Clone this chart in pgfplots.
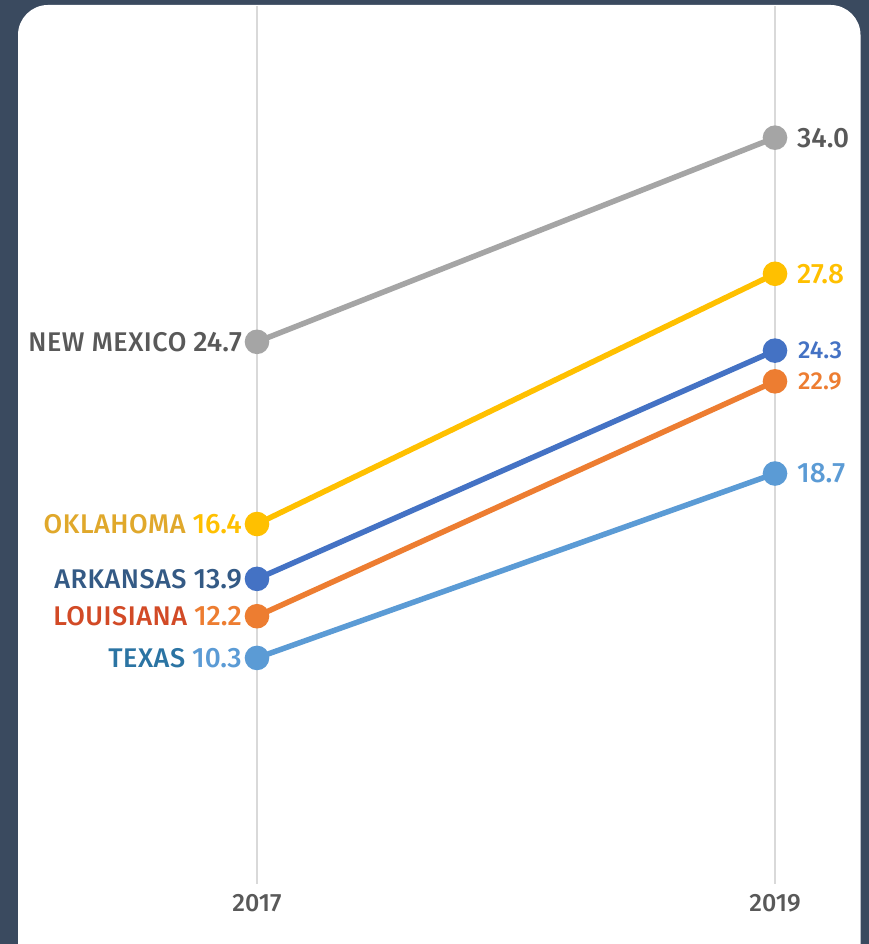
\documentclass[border=0pt]{standalone}
\usepackage{fontspec}
\setmainfont{Fira Sans}[UprightFont=* Medium]
\newfontfamily\namefont{Fira Sans}[UprightFont=* Medium, LetterSpace=2]
\usepackage{pgfplots}
\pgfplotsset{compat=1.18}
\definecolor{bgc}{HTML}{3A4A5F}
\definecolor{gridc}{HTML}{D9D9D9}
\definecolor{labc}{HTML}{595959}
\definecolor{nmline}{HTML}{A5A5A5}
\definecolor{okline}{HTML}{FFC000}
\definecolor{okname}{HTML}{E0A82B}
\definecolor{arline}{HTML}{4472C4}
\definecolor{arname}{HTML}{345A85}
\definecolor{laline}{HTML}{ED7D31}
\definecolor{laname}{HTML}{D24A26}
\definecolor{txline}{HTML}{5B9BD5}
\definecolor{txname}{HTML}{2B74A3}
\newcommand{\fs}[1]{\fontsize{#1}{#1}\selectfont}
\newcommand{\nm}[1]{{\fs{27}\namefont #1}}
\begin{document}
\begin{tikzpicture}[x=1pt,y=1pt]
\fill[bgc] (0,0) rectangle (869,944);
\fill[white,rounded corners=30pt] (18,-40) rectangle (860.5,939);
\begin{axis}[
  at={(257pt,60pt)}, anchor=south west,
  scale only axis, width=518pt, height=878pt,
  xmin=2017, xmax=2019, ymin=0, ymax=40,
  axis line style={draw=none},
  ytick=\empty,
  xtick={2017,2019}, xticklabels={2017,2019},
  xmajorgrids, grid style={color=gridc, line width=1.6pt},
  major tick length=0pt,
  xticklabel style={font=\fs{25}, text=labc, anchor=north, yshift=-7pt},
  clip=false,
  every axis plot/.append style={line width=5.5pt, mark=*, mark size=9.5pt},
]
\addplot[color=nmline, mark options={draw=none, fill=nmline}] coordinates {(2017,24.7) (2019,34.0)};
\addplot[color=okline, mark options={draw=none, fill=okline}] coordinates {(2017,16.4) (2019,27.8)};
\addplot[color=arline, mark options={draw=none, fill=arline}] coordinates {(2017,13.9) (2019,24.3)};
\addplot[color=laline, mark options={draw=none, fill=laline}] coordinates {(2017,12.2) (2019,22.9)};
\addplot[color=txline, mark options={draw=none, fill=txline}] coordinates {(2017,10.3) (2019,18.7)};

\begin{scope}[every node/.style={inner sep=0pt, font=\fs{28}}]
\node[anchor=east, xshift=-15pt] at (axis cs:2017,24.7) {\textcolor{labc}{\nm{NEW MEXICO}} \textcolor{labc}{24.7}};
\node[anchor=east, xshift=-15pt] at (axis cs:2017,16.4) {\textcolor{okname}{\nm{OKLAHOMA}} \textcolor{okline}{16.4}};
\node[anchor=east, xshift=-15pt] at (axis cs:2017,13.9) {\textcolor{arname}{\nm{ARKANSAS}} \textcolor{arname}{13.9}};
\node[anchor=east, xshift=-15pt] at (axis cs:2017,12.2) {\textcolor{laname}{\nm{LOUISIANA}} \textcolor{laline}{12.2}};
\node[anchor=east, xshift=-15pt] at (axis cs:2017,10.3) {\textcolor{txname}{\nm{TEXAS}} \textcolor{txline}{10.3}};
\node[anchor=west, xshift=22pt, font=\fs{28}, text=labc] at (axis cs:2019,34.0) {34.0};
\node[anchor=west, xshift=22pt, font=\fs{28}, text=okline] at (axis cs:2019,27.8) {27.8};
\node[anchor=west, xshift=23pt, font=\fs{24.5}, text=arline] at (axis cs:2019,24.3) {24.3};
\node[anchor=west, xshift=23pt, font=\fs{24.5}, text=laline] at (axis cs:2019,22.9) {22.9};
\node[anchor=west, xshift=22pt, font=\fs{28}, text=txline] at (axis cs:2019,18.7) {18.7};
\end{scope}
\end{axis}
\pgfresetboundingbox
\useasboundingbox (0,0) rectangle (869,944);
\end{tikzpicture}
\end{document}
